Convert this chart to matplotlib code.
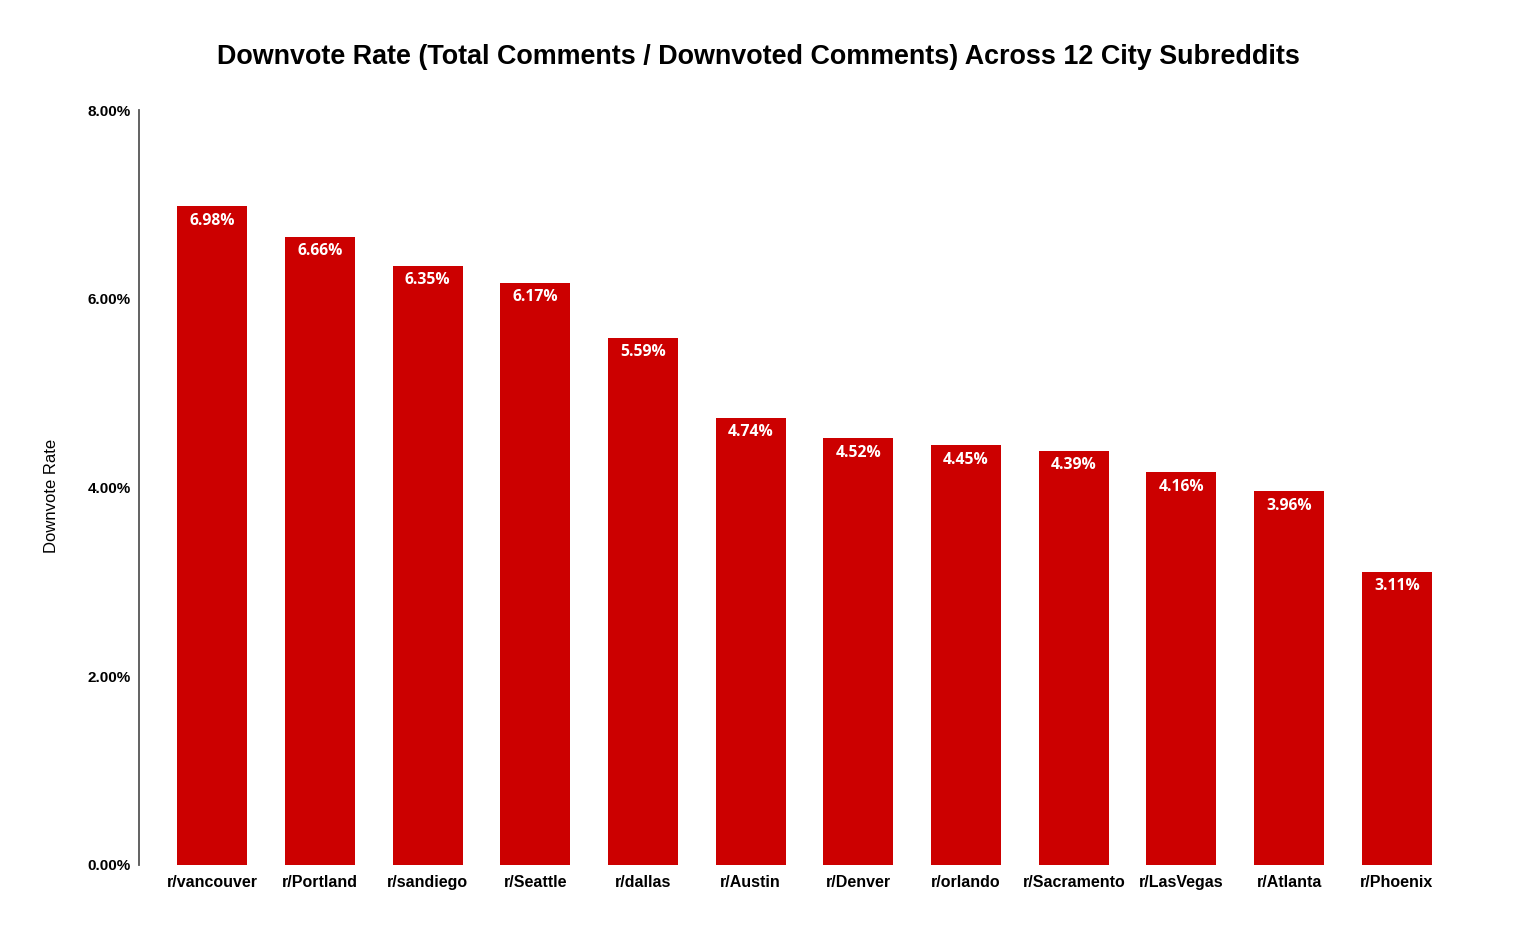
import numpy as np
import matplotlib.pyplot as plt

# data
subs = ['r/vancouver', 'r/Portland', 'r/sandiego', 'r/Seattle', 'r/dallas', 'r/Austin',
        'r/Denver', 'r/orlando', 'r/Sacramento', 'r/LasVegas', 'r/Atlanta', 'r/Phoenix']
rates = [6.98, 6.66, 6.35, 6.17, 5.59, 4.74, 4.52, 4.45, 4.39, 4.16, 3.96, 3.11]
yticks = [0, 2, 4, 6, 8]

RED = '#cc0000'

fig = plt.figure(figsize=(15.16, 9.33), dpi=100)
ax = fig.add_axes([0.0917, 0.0729, 0.8780, 0.8091])

x = np.arange(len(subs))
w = 0.65
ax.bar(x, rates, width=w, color=RED, zorder=2)

# white value labels just inside the bar tops
for xi, v in zip(x, rates):
    ax.text(xi, v - 0.07, f'{v:.2f}%', ha='center', va='top', color='white',
            fontsize=11.3, fontweight='bold', family='Open Sans')

ax.set_xlim(-0.68, len(subs) - 1 + 0.68)
ax.set_ylim(0, 8)
ax.set_yticks(yticks)
ax.set_yticklabels([f'{t:.2f}%' for t in yticks], fontsize=11, fontweight='bold',
                   family='Liberation Sans')
ax.set_xticks(x)
ax.set_xticklabels(subs, fontsize=11.5, fontweight='bold', family='Liberation Sans')
ax.tick_params(axis='both', length=0)
ax.tick_params(axis='y', pad=6)
ax.tick_params(axis='x', pad=7)

for s in ['top', 'right', 'bottom']:
    ax.spines[s].set_visible(False)
ax.spines['left'].set_color('#555555')
ax.spines['left'].set_linewidth(1.3)

ax.set_ylabel('Downvote Rate', fontsize=12, family='Liberation Sans')
ax.yaxis.set_label_coords(-0.060, 0.489)

fig.text(0.5, 0.939, 'Downvote Rate (Total Comments / Downvoted Comments) Across 12 City Subreddits',
         ha='center', va='center', fontsize=19.4, fontweight='bold', family='Liberation Sans')

fig.savefig('out.png', dpi=100, facecolor='white')
